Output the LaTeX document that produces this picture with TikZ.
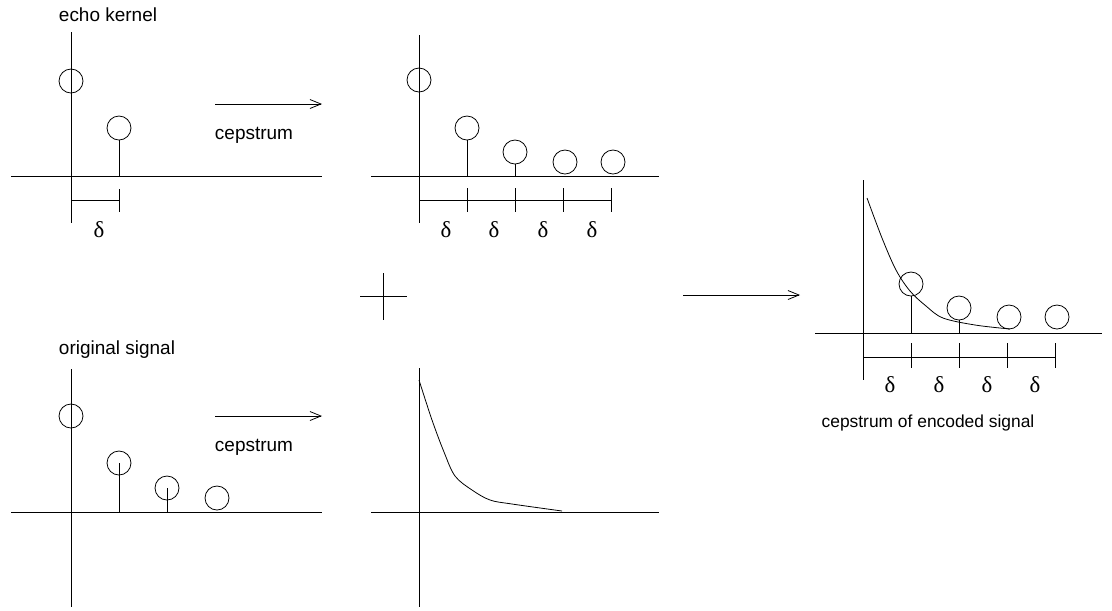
\documentclass[tikz,border=0pt]{standalone}
\usepackage{fontspec}
\setmainfont{Liberation Sans}
\newfontfamily\greekfont{Liberation Serif}
\usetikzlibrary{arrows.meta}

\tikzset{
  stem/.style={circle, draw, minimum size=0.48cm, inner sep=0pt},
  lbl/.style={font=\fontsize{10.8}{13}\selectfont, inner sep=0pt},
  dlt/.style={font=\greekfont\fontsize{13}{15}\selectfont, inner sep=0pt},
  bigarrow/.style={-{Straight Barb[length=2.2mm,width=1.8mm]}}
}

\begin{document}
\begin{tikzpicture}[x=0.02cm,y=-0.02cm,line width=0.45pt]
\useasboundingbox (0,0) rectangle (1112,610);

%echo kernel
\node[lbl] (ek) at (108,15) {echo kernel};
\draw (71,32) -- (71,223);
\draw (11,176) -- (322,176);
\node[stem] (e0) at (71,81) {};
\node[stem] (e1) at (119,128) {};
\coordinate (e1b) at (119,176);
\draw (e1b) -- (e1.south);
\draw (71,200) -- (119,200);
\draw (119,189) -- (119,212);
\node[dlt] (d0) at (99,230) {δ};

%arrow to cepstrum of kernel
\coordinate (a1s) at (215,104);
\coordinate (a1e) at (322,104);
\draw[bigarrow] (a1s) -- (a1e);
\node[lbl] (c1) at (254,135) {cepstrum};

%cepstrum of echo kernel
\draw (419,35) -- (419,223);
\draw (371,176) -- (659,176);
\node[stem] (k0) at (419,80) {};
\node[stem] (k1) at (467,128) {};
\node[stem] (k2) at (515,152) {};
\node[stem] (k3) at (565,162) {};
\node[stem] (k4) at (613,162) {};
\coordinate (k1b) at (467,176);
\coordinate (k2b) at (515,176);
\draw (k1b) -- (k1.south);
\draw (k2b) -- (k2.south);
\draw (419,200) -- (611,200);
\draw (467,188) -- (467,212);
\draw (515,188) -- (515,212);
\draw (563,188) -- (563,212);
\draw (611,188) -- (611,212);
\node[dlt] (d1) at (446,230) {δ};
\node[dlt] (d2) at (494,230) {δ};
\node[dlt] (d3) at (543,230) {δ};
\node[dlt] (d4) at (592,230) {δ};

%plus sign
\draw (360,296) -- (407,296);
\draw (383,273) -- (383,320);

%original signal
\node[lbl] (os) at (117,350) {original signal};
\draw (71,369) -- (71,607);
\draw (11,512) -- (322,512);
\node[stem] (o0) at (71,416) {};
\node[stem] (o1) at (119,463) {};
\node[stem] (o2) at (167,488) {};
\node[stem] (o3) at (217,498) {};
\coordinate (o1b) at (119,512);
\coordinate (o2b) at (167,512);
\draw (o1b) -- (o1.center);
\draw (o2b) -- (o2.center);

%arrow to cepstrum of signal
\coordinate (a2s) at (215,416);
\coordinate (a2e) at (322,416);
\draw[bigarrow] (a2s) -- (a2e);
\node[lbl] (c2) at (254,447) {cepstrum};

%cepstrum of original signal
\draw (419,368) -- (419,607);
\draw (371,512) -- (659,512);
\draw plot[smooth, tension=0.55] coordinates {(419,380) (432,420) (444,452) (455,476) (472,490) (490,500) (512,504) (562,511)};

%arrow to result
\coordinate (a3s) at (683,295);
\coordinate (a3e) at (800,295);
\draw[bigarrow] (a3s) -- (a3e);

%cepstrum of encoded signal
\draw (863,180) -- (863,380);
\draw (815,333) -- (1102,333);
\draw plot[smooth, tension=0.55] coordinates {(867,198) (882,238) (896,270) (910,291) (926,306) (943,318) (975,325) (1010,329)};
\node[stem] (r0) at (911,284) {};
\node[stem] (r1) at (959,308) {};
\node[stem] (r2) at (1009,317) {};
\node[stem] (r3) at (1057,317) {};
\coordinate (r0b) at (911,333);
\coordinate (r1b) at (959,333);
\draw (r0b) -- (r0.south);
\draw (r1b) -- (r1.south);
\draw (863,357) -- (1055,357);
\draw (911,343) -- (911,368);
\draw (959,343) -- (959,368);
\draw (1007,343) -- (1007,368);
\draw (1055,343) -- (1055,368);
\node[dlt] (d5) at (890,385) {δ};
\node[dlt] (d6) at (939,385) {δ};
\node[dlt] (d7) at (987,385) {δ};
\node[dlt] (d8) at (1035,385) {δ};
\node[lbl, font=\fontsize{9.9}{12}\selectfont] (ce) at (928,423) {cepstrum of encoded signal};
\end{tikzpicture}
\end{document}
